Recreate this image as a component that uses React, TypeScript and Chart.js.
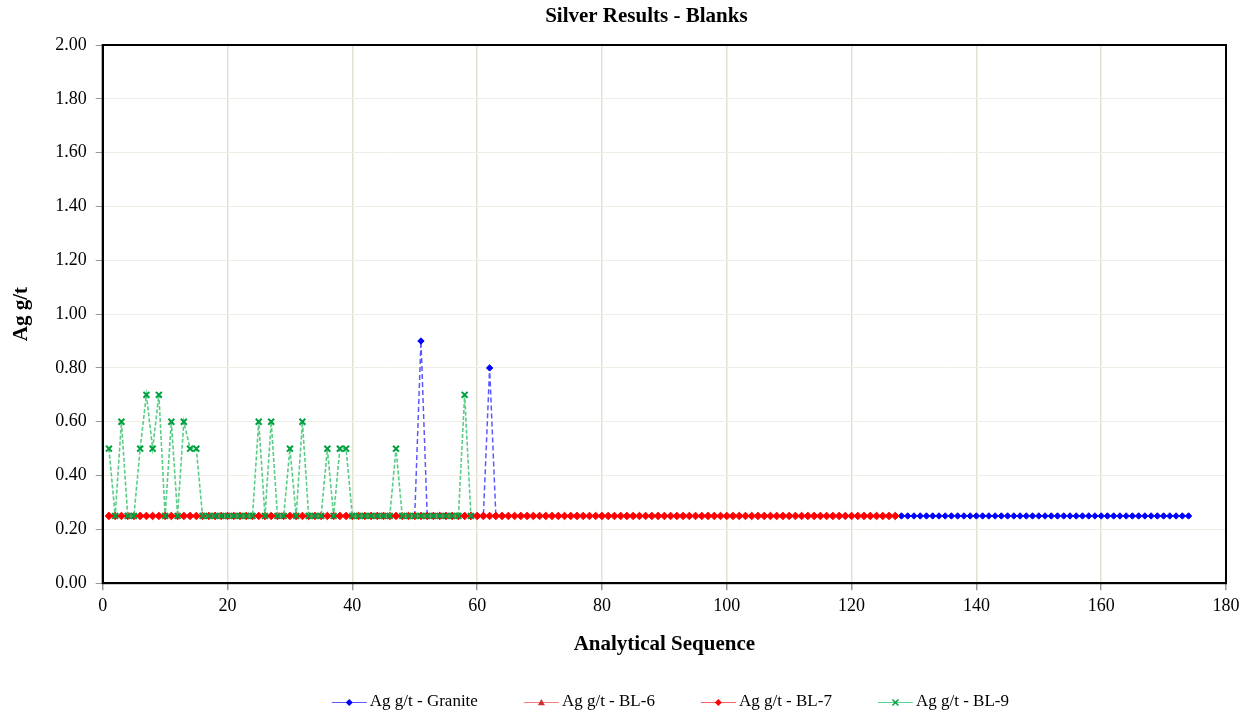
import React, { useEffect, useRef } from "react";
import { Chart, registerables } from "chart.js";

Chart.register(...registerables);

const chartTitle = "Silver Results - Blanks";
const xAxisTitle = "Analytical Sequence";
const yAxisTitle = "Ag g/t";

const xTickValues = [0, 20, 40, 60, 80, 100, 120, 140, 160, 180];
const yTickValues = [0, 0.2, 0.4, 0.6, 0.8, 1.0, 1.2, 1.4, 1.6, 1.8, 2.0];

const seriesNames = ["Ag g/t - Granite", "Ag g/t - BL-6", "Ag g/t - BL-7", "Ag g/t - BL-9"];

// Granite: two runs in the sequence
const graniteStartA = 50;
const graniteValuesA = [0.25, 0.9, 0.25, 0.25, 0.25, 0.25, 0.25, 0.25, 0.25, 0.25, 0.25, 0.25, 0.8, 0.25];
const graniteStartB = 128;
const graniteValuesB = [
  0.25, 0.25, 0.25, 0.25, 0.25, 0.25, 0.25, 0.25, 0.25, 0.25,
  0.25, 0.25, 0.25, 0.25, 0.25, 0.25, 0.25, 0.25, 0.25, 0.25,
  0.25, 0.25, 0.25, 0.25, 0.25, 0.25, 0.25, 0.25, 0.25, 0.25,
  0.25, 0.25, 0.25, 0.25, 0.25, 0.25, 0.25, 0.25, 0.25, 0.25,
  0.25, 0.25, 0.25, 0.25, 0.25, 0.25, 0.25,
];

const bl6Start = 1;
const bl6Values: number[] = [];

const bl7Start = 1;
const bl7Values = [
  0.25, 0.25, 0.25, 0.25, 0.25, 0.25, 0.25, 0.25, 0.25, 0.25,
  0.25, 0.25, 0.25, 0.25, 0.25, 0.25, 0.25, 0.25, 0.25, 0.25,
  0.25, 0.25, 0.25, 0.25, 0.25, 0.25, 0.25, 0.25, 0.25, 0.25,
  0.25, 0.25, 0.25, 0.25, 0.25, 0.25, 0.25, 0.25, 0.25, 0.25,
  0.25, 0.25, 0.25, 0.25, 0.25, 0.25, 0.25, 0.25, 0.25, 0.25,
  0.25, 0.25, 0.25, 0.25, 0.25, 0.25, 0.25, 0.25, 0.25, 0.25,
  0.25, 0.25, 0.25, 0.25, 0.25, 0.25, 0.25, 0.25, 0.25, 0.25,
  0.25, 0.25, 0.25, 0.25, 0.25, 0.25, 0.25, 0.25, 0.25, 0.25,
  0.25, 0.25, 0.25, 0.25, 0.25, 0.25, 0.25, 0.25, 0.25, 0.25,
  0.25, 0.25, 0.25, 0.25, 0.25, 0.25, 0.25, 0.25, 0.25, 0.25,
  0.25, 0.25, 0.25, 0.25, 0.25, 0.25, 0.25, 0.25, 0.25, 0.25,
  0.25, 0.25, 0.25, 0.25, 0.25, 0.25, 0.25, 0.25, 0.25, 0.25,
  0.25, 0.25, 0.25, 0.25, 0.25, 0.25, 0.25,
];

const bl9Start = 1;
const bl9Values = [
  0.5, 0.25, 0.6, 0.25, 0.25, 0.5, 0.7, 0.5, 0.7, 0.25,
  0.6, 0.25, 0.6, 0.5, 0.5, 0.25, 0.25, 0.25, 0.25, 0.25,
  0.25, 0.25, 0.25, 0.25, 0.6, 0.25, 0.6, 0.25, 0.25, 0.5,
  0.25, 0.6, 0.25, 0.25, 0.25, 0.5, 0.25, 0.5, 0.5, 0.25,
  0.25, 0.25, 0.25, 0.25, 0.25, 0.25, 0.5, 0.25, 0.25, 0.25,
  0.25, 0.25, 0.25, 0.25, 0.25, 0.25, 0.25, 0.7, 0.25,
];

const FONT = '"Liberation Serif", "Times New Roman", serif';

type Pt = { x: number; y: number | null };
const toPoints = (start: number, values: number[]): Pt[] =>
  values.map((v, i) => ({ x: start + i, y: v }));

const legendStyles = [
  { line: "#5a5aff", marker: "diamond", color: "#0000ff" },
  { line: "#f08080", marker: "triangle", color: "#d03030" },
  { line: "#ff6060", marker: "diamond", color: "#ff0000" },
  { line: "#5fd08a", marker: "cross", color: "#00a040" },
];

function drawMarker(ctx: CanvasRenderingContext2D, kind: string, x: number, y: number, color: string) {
  ctx.save();
  ctx.fillStyle = color;
  ctx.strokeStyle = color;
  ctx.lineWidth = 1.5;
  ctx.beginPath();
  if (kind === "diamond") {
    const r = 3.5;
    ctx.moveTo(x, y - r);
    ctx.lineTo(x + r, y);
    ctx.lineTo(x, y + r);
    ctx.lineTo(x - r, y);
    ctx.closePath();
    ctx.fill();
  } else if (kind === "triangle") {
    const r = 3.5;
    ctx.moveTo(x, y - r);
    ctx.lineTo(x + r, y + r * 0.8);
    ctx.lineTo(x - r, y + r * 0.8);
    ctx.closePath();
    ctx.fill();
  } else {
    const r = 3;
    ctx.moveTo(x - r, y - r);
    ctx.lineTo(x + r, y + r);
    ctx.moveTo(x + r, y - r);
    ctx.lineTo(x - r, y + r);
    ctx.stroke();
  }
  ctx.restore();
}

const titlePlugin = {
  id: "excelTitle",
  afterDraw(chart: any) {
    const ctx: CanvasRenderingContext2D = chart.ctx;
    const area = chart.chartArea;
    ctx.save();
    ctx.font = `bold 21px ${FONT}`;
    ctx.fillStyle = "#000";
    ctx.textAlign = "center";
    ctx.textBaseline = "middle";
    ctx.fillText(chartTitle, (area.left + area.right) / 2 - 18, 17);
    ctx.restore();
  },
};

const legendPlugin = {
  id: "excelLegend",
  afterDraw(chart: any) {
    const ctx: CanvasRenderingContext2D = chart.ctx;
    const area = chart.chartArea;
    ctx.save();
    ctx.font = `17px ${FONT}`;
    ctx.textBaseline = "middle";
    ctx.textAlign = "left";
    const symW = 35;
    const gapT = 3;
    const gapI = 46;
    const widths = seriesNames.map((n) => symW + gapT + ctx.measureText(n).width);
    const total = widths.reduce((a, b) => a + b, 0) + gapI * (widths.length - 1);
    let x = (area.left + area.right) / 2 - total / 2 + 6;
    const y = chart.height - 10;
    seriesNames.forEach((name, i) => {
      const st = legendStyles[i];
      ctx.strokeStyle = st.line;
      ctx.lineWidth = 1;
      ctx.beginPath();
      ctx.moveTo(x, y + 0.5);
      ctx.lineTo(x + symW, y + 0.5);
      ctx.stroke();
      drawMarker(ctx, st.marker, x + symW / 2, y + 0.5, st.color);
      ctx.fillStyle = "#000";
      ctx.fillText(name, x + symW + gapT, y);
      x += widths[i] + gapI;
    });
    ctx.restore();
  },
};

const framePlugin = {
  id: "frame",
  beforeDatasetsDraw(chart: any) {
    const { ctx, chartArea } = chart;
    ctx.save();
    ctx.strokeStyle = "#000";
    ctx.lineWidth = 2;
    ctx.strokeRect(chartArea.left, chartArea.top, chartArea.right - chartArea.left, chartArea.bottom - chartArea.top);
    ctx.restore();
  },
};

export default function App() {
  const canvasRef = useRef<HTMLCanvasElement | null>(null);

  useEffect(() => {
    if (!canvasRef.current) return;
    const graniteData: Pt[] = [
      ...toPoints(graniteStartA, graniteValuesA),
      { x: graniteStartA + graniteValuesA.length, y: null },
      ...toPoints(graniteStartB, graniteValuesB),
    ];
    const chart = new Chart(canvasRef.current, {
      type: "line",
      data: {
        datasets: [
          {
            label: seriesNames[0],
            data: graniteData as any,
            borderColor: "rgba(60,60,255,0.85)",
            borderWidth: 1.5,
            borderDash: [5, 3],
            pointStyle: "rectRot",
            pointRadius: 3.2,
            pointBackgroundColor: "#0000ff",
            pointBorderColor: "#0000ff",
            pointBorderWidth: 1,
            spanGaps: false,
            order: 3,
          },
          {
            label: seriesNames[1],
            data: toPoints(bl6Start, bl6Values) as any,
            borderColor: "#f08080",
            borderWidth: 1,
            pointStyle: "triangle",
            pointRadius: 3,
            pointBackgroundColor: "#d03030",
            pointBorderColor: "#d03030",
            order: 2,
          },
          {
            label: seriesNames[2],
            data: toPoints(bl7Start, bl7Values) as any,
            borderColor: "#ff6060",
            borderWidth: 1,
            pointStyle: "rectRot",
            pointRadius: 3.8,
            pointBackgroundColor: "#ff0000",
            pointBorderColor: "#ff0000",
            pointBorderWidth: 1,
            order: 1,
          },
          {
            label: seriesNames[3],
            data: toPoints(bl9Start, bl9Values) as any,
            borderColor: "rgba(70,200,120,0.9)",
            borderWidth: 1.6,
            borderDash: [4, 2],
            pointStyle: "crossRot",
            pointRadius: 4.2,
            pointBorderColor: "#00a040",
            pointBackgroundColor: "#00a040",
            pointBorderWidth: 2,
            order: 0,
          },
        ],
      },
      options: {
        responsive: false,
        animation: false,
        events: [],
        layout: { padding: { left: 0, right: 25, top: 45, bottom: 55 } },
        plugins: {
          legend: { display: false },
          tooltip: { enabled: false },
          title: { display: false },
        },
        scales: {
          x: {
            type: "linear",
            min: 0,
            max: 180,
            afterBuildTicks: (scale: any) => {
              scale.ticks = xTickValues.map((v) => ({ value: v }));
            },
            ticks: {
              color: "#000",
              font: { family: FONT, size: 18 },
              padding: 5,
              maxRotation: 0,
              callback: (v: any) => String(v),
            },
            grid: {
              color: "#e4e0d0",
              lineWidth: 1.5,
              tickLength: 7,
              tickColor: "#999",
              drawTicks: true,
            },
            border: { display: true, color: "#000", width: 2 },
            title: {
              display: true,
              text: xAxisTitle,
              color: "#000",
              font: { family: FONT, size: 21, weight: "bold" },
              padding: { top: 10, bottom: 0 },
            },
          },
          y: {
            type: "linear",
            min: 0,
            max: 2,
            afterBuildTicks: (scale: any) => {
              scale.ticks = yTickValues.map((v) => ({ value: v }));
            },
            ticks: {
              color: "#000",
              font: { family: FONT, size: 18 },
              padding: 9,
              callback: (v: any) => Number(v).toFixed(2),
            },
            grid: {
              color: "#f0eee4",
              lineWidth: 1,
              tickLength: 7,
              tickColor: "#999",
            },
            border: { display: true, color: "#000", width: 2 },
            title: {
              display: true,
              text: yAxisTitle,
              color: "#000",
              font: { family: FONT, size: 21, weight: "bold" },
              padding: { top: 9, bottom: 12 },
            },
          },
        },
      },
      plugins: [framePlugin, titlePlugin, legendPlugin],
    });
    return () => chart.destroy();
  }, []);

  return (
    <canvas
      ref={canvasRef}
      width={1251}
      height={712}
      style={{ position: "fixed", left: 0, top: 0, display: "block", background: "#fff" }}
    />
  );
}
